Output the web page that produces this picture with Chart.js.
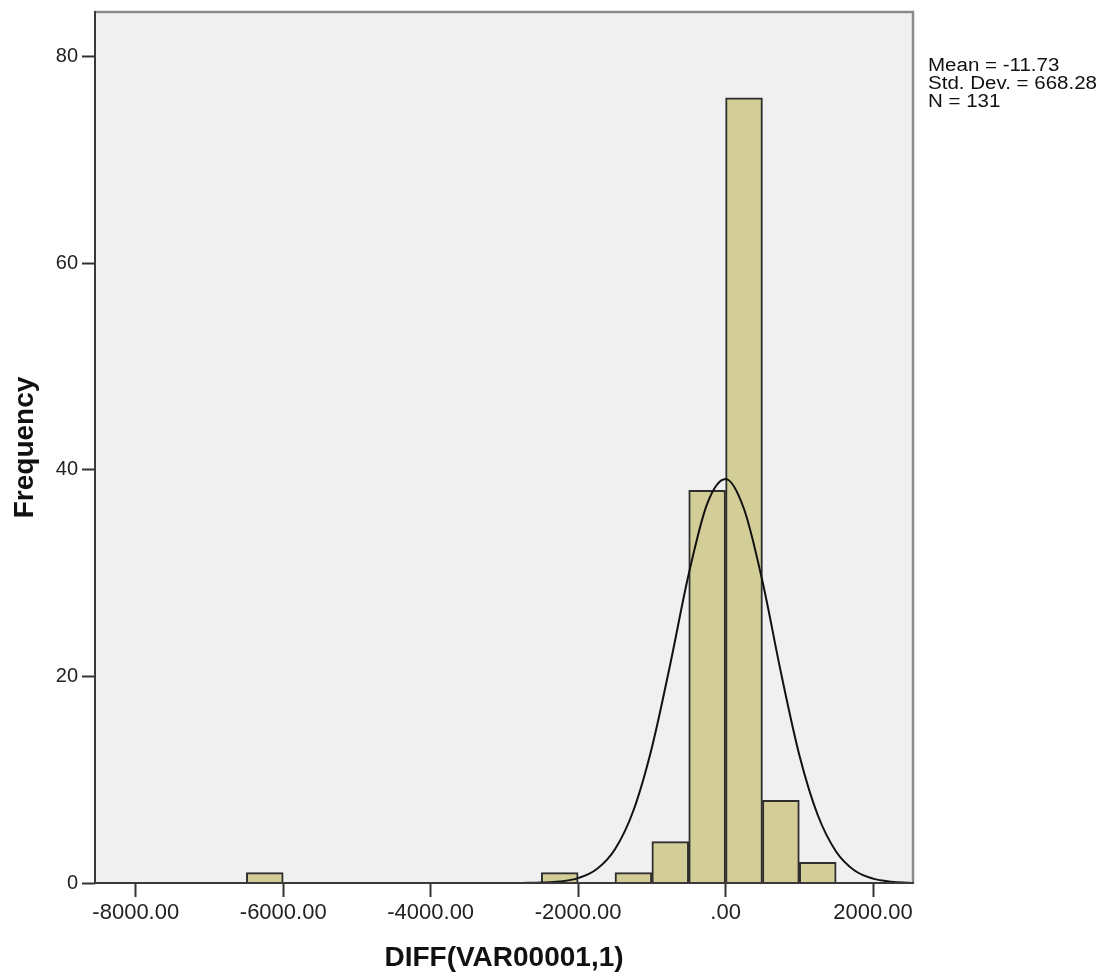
<!DOCTYPE html>
<html><head><meta charset="utf-8">
<script src="https://cdn.jsdelivr.net/npm/chart.js@4.4.1/dist/chart.umd.min.js"></script>
<style>html,body{margin:0;padding:0;background:#fff;}#wrap{width:1109px;height:977px;position:relative;}</style>
</head><body><div id="wrap"><canvas id="c" width="1109" height="977"></canvas></div>
<script>
// ---- data ----
const binStarts = [-6500, -2500, -1500, -1000, -500, 0, 500, 1000];
const binWidth = 500;
const frequencies = [1, 1, 1, 4, 38, 76, 8, 2];
// normal curve points
const curveX = [-2750, -2500, -2250, -2000, -1750, -1500, -1250, -1000, -750, -500, -250, 0, 250, 500, 750, 1000, 1250, 1500, 1750, 2000, 2250, 2500];
const curveY = [0.01, 0.04, 0.14, 0.47, 1.33, 3.27, 7.02, 13.1, 21.2, 29.9, 36.7, 39.1, 36.2, 29.2, 20.4, 12.4, 6.58, 3.03, 1.21, 0.42, 0.13, 0.03];
const xTicks = [-8000, -6000, -4000, -2000, 0, 2000];
const yTicks = [0, 20, 40, 60, 80];
const statsLines = ['Mean = -11.73', 'Std. Dev. = 668.28', 'N = 131'];
const xTitle = 'DIFF(VAR00001,1)';
const yTitle = 'Frequency';

const FONT = "'Liberation Sans', Arial, sans-serif";

const barData = binStarts.map((s, i) => ({ x: s + binWidth / 2, y: frequencies[i] }));
const curveData = curveX.map((x, i) => ({ x: x, y: curveY[i] }));

const framePlugin = {
  id: 'frame',
  beforeDatasetsDraw(chart) {
    const { ctx, chartArea: a } = chart;
    ctx.save();
    ctx.fillStyle = '#f0f0f0';
    ctx.fillRect(a.left, a.top, a.right - a.left, a.bottom - a.top);
    ctx.restore();
  },
  afterDraw(chart) {
    const { ctx, chartArea: a } = chart;
    ctx.save();
    ctx.strokeStyle = '#8a8a8a';
    ctx.lineWidth = 2.5;
    ctx.beginPath();
    ctx.moveTo(a.left, a.top);
    ctx.lineTo(a.right, a.top);
    ctx.lineTo(a.right, a.bottom);
    ctx.stroke();
    ctx.strokeStyle = '#3a3a3a';
    ctx.lineWidth = 2;
    ctx.beginPath();
    ctx.moveTo(a.left, a.top - 1);
    ctx.lineTo(a.left, a.bottom);
    ctx.lineTo(a.right + 1, a.bottom);
    ctx.stroke();
    ctx.fillStyle = '#111';
    ctx.font = '18px ' + FONT;
    ctx.textAlign = 'left';
    ctx.textBaseline = 'middle';
    const x0 = a.right + 15;
    statsLines.forEach((t, i) => {
      ctx.save();
      ctx.translate(x0, 66 + i * 18);
      ctx.scale(1.14, 1);
      ctx.fillText(t, 0, 0);
      ctx.restore();
    });
    ctx.restore();
  }
};

new Chart(document.getElementById('c'), {
  type: 'bar',
  data: {
    datasets: [
      {
        type: 'line',
        data: curveData,
        borderColor: '#111',
        borderWidth: 2,
        pointRadius: 0,
        cubicInterpolationMode: 'monotone',
        fill: false,
        order: 0
      },
      {
        type: 'bar',
        data: barData,
        backgroundColor: '#d3ce98',
        borderColor: '#2e2e2e',
        borderWidth: 2,
        barPercentage: 1,
        categoryPercentage: 1,
        order: 1
      }
    ]
  },
  options: {
    responsive: false,
    animation: false,
    events: [],
    layout: { padding: { left: 0, top: 12, right: 196, bottom: 0 } },
    plugins: { legend: { display: false }, tooltip: { enabled: false } },
    scales: {
      x: {
        type: 'linear',
        min: -8553,
        max: 2542,
        offset: false,
        afterBuildTicks(s) { s.ticks = xTicks.map(v => ({ value: v })); },
        afterFit(s) { s.height = 94; s.paddingLeft = 0; s.paddingRight = 0; },
        grid: { display: true, drawOnChartArea: false, drawTicks: true, tickLength: 14, tickWidth: 2, tickColor: '#333', offset: false },
        border: { display: false },
        ticks: {
          color: '#222', padding: 3, maxRotation: 0, autoSkip: false,
          font: { family: FONT, size: 22 },
          callback: v => v === 0 ? '.00' : v.toFixed(2)
        },
        title: { display: true, text: xTitle, color: '#111', font: { family: FONT, size: 28, weight: 'bold' }, padding: { top: 0, bottom: 2 } }
      },
      y: {
        type: 'linear',
        min: 0,
        max: 84.3,
        afterBuildTicks(s) { s.ticks = yTicks.map(v => ({ value: v })); },
        afterFit(s) { s.width = 95; s.paddingTop = 0; s.paddingBottom = 0; },
        grid: { display: true, drawOnChartArea: false, drawTicks: true, tickLength: 13, tickWidth: 2, tickColor: '#333' },
        border: { display: false },
        ticks: { color: '#222', padding: 4, font: { family: FONT, size: 20 } },
        title: { display: true, text: yTitle, color: '#111', font: { family: FONT, size: 28, weight: 'bold' }, padding: { top: 8, bottom: 0 } }
      }
    }
  },
  plugins: [framePlugin]
});
</script></body></html>
